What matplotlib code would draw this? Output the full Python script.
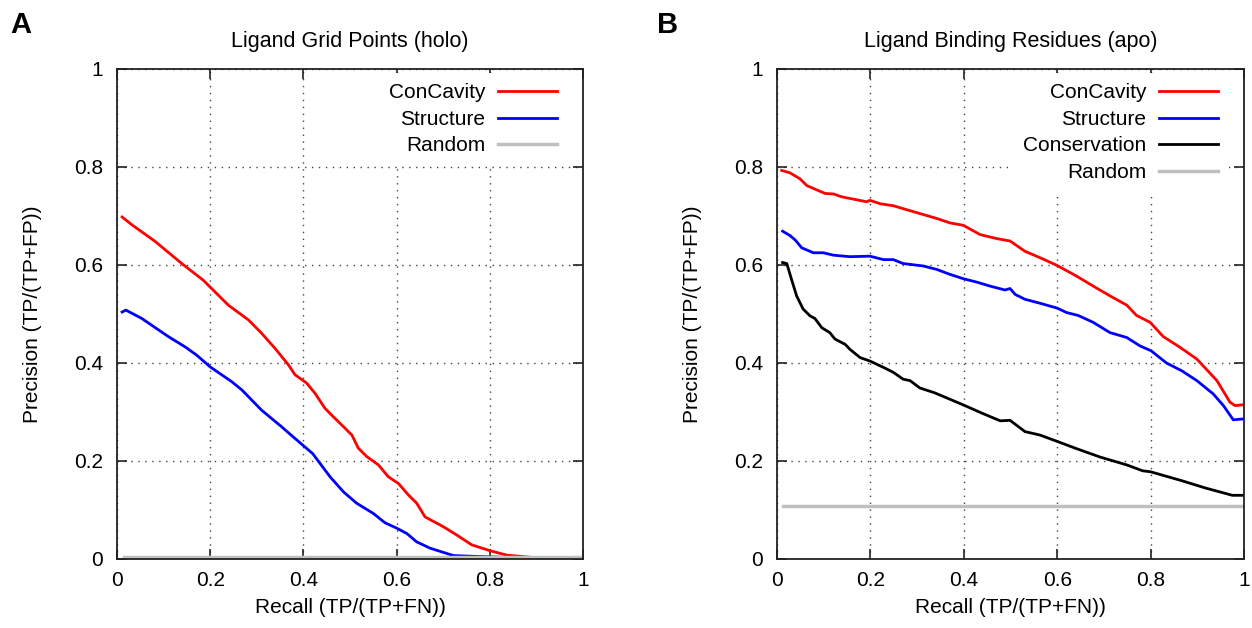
import matplotlib
matplotlib.use("Agg")
import matplotlib.pyplot as plt

plt.rcParams["font.family"] = ["Liberation Sans", "DejaVu Sans"]
plt.rcParams["font.size"] = 15

# panel A: ligand grid points (holo)
a_con_x = [0.011, 0.032, 0.082, 0.139, 0.185, 0.203, 0.239, 0.282, 0.310, 0.339, 0.368, 0.382,
           0.407, 0.425, 0.446, 0.457, 0.486, 0.504, 0.518, 0.536, 0.561, 0.582, 0.604, 0.625,
           0.643, 0.661, 0.700, 0.729, 0.761, 0.800, 0.836, 0.893]
a_con_y = [0.698, 0.682, 0.648, 0.603, 0.569, 0.552, 0.518, 0.488, 0.461, 0.430, 0.396, 0.376,
           0.359, 0.338, 0.308, 0.297, 0.270, 0.253, 0.226, 0.209, 0.192, 0.168, 0.154, 0.131,
           0.114, 0.086, 0.066, 0.049, 0.029, 0.017, 0.008, 0.003]
a_str_x = [0.011, 0.019, 0.053, 0.110, 0.146, 0.171, 0.200, 0.246, 0.268, 0.310, 0.353, 0.382,
           0.420, 0.457, 0.486, 0.514, 0.550, 0.575, 0.600, 0.622, 0.643, 0.672, 0.722, 0.779, 0.850]
a_str_y = [0.504, 0.508, 0.491, 0.454, 0.433, 0.416, 0.392, 0.362, 0.345, 0.304, 0.270, 0.246,
           0.215, 0.168, 0.137, 0.114, 0.093, 0.074, 0.063, 0.052, 0.035, 0.022, 0.007, 0.005, 0.003]
a_rand_x = [0.014, 1.0]
a_rand_y = [0.005, 0.005]

# panel B: ligand binding residues (apo)
b_con_x = [0.010, 0.028, 0.049, 0.064, 0.081, 0.103, 0.121, 0.139, 0.171, 0.192, 0.199, 0.221,
           0.249, 0.270, 0.306, 0.342, 0.370, 0.399, 0.435, 0.470, 0.499, 0.531, 0.563, 0.600,
           0.642, 0.677, 0.713, 0.749, 0.770, 0.799, 0.827, 0.863, 0.899, 0.942, 0.970, 0.981, 1.000]
b_con_y = [0.793, 0.788, 0.776, 0.762, 0.755, 0.746, 0.745, 0.739, 0.733, 0.729, 0.732, 0.725,
           0.721, 0.715, 0.705, 0.695, 0.686, 0.681, 0.662, 0.654, 0.649, 0.628, 0.615, 0.599,
           0.577, 0.557, 0.537, 0.518, 0.497, 0.483, 0.454, 0.432, 0.408, 0.364, 0.320, 0.313, 0.315]
b_str_x = [0.012, 0.028, 0.039, 0.053, 0.078, 0.099, 0.121, 0.156, 0.199, 0.228, 0.249, 0.270,
           0.313, 0.342, 0.370, 0.399, 0.428, 0.456, 0.488, 0.499, 0.510, 0.531, 0.563, 0.600,
           0.620, 0.645, 0.677, 0.713, 0.749, 0.777, 0.801, 0.834, 0.867, 0.899, 0.934, 0.956,
           0.977, 1.000]
b_str_y = [0.669, 0.660, 0.651, 0.635, 0.625, 0.625, 0.620, 0.617, 0.618, 0.611, 0.611, 0.603,
           0.598, 0.591, 0.581, 0.572, 0.565, 0.557, 0.549, 0.552, 0.540, 0.530, 0.522, 0.512,
           0.503, 0.497, 0.483, 0.462, 0.452, 0.435, 0.425, 0.400, 0.384, 0.364, 0.337, 0.313,
           0.284, 0.286]
b_cons_x = [0.012, 0.021, 0.031, 0.042, 0.056, 0.071, 0.081, 0.096, 0.113, 0.124, 0.146, 0.156,
            0.178, 0.199, 0.228, 0.249, 0.270, 0.285, 0.306, 0.338, 0.400, 0.438, 0.478, 0.499,
            0.531, 0.563, 0.600, 0.642, 0.692, 0.749, 0.783, 0.800, 0.866, 0.917, 0.975, 1.000]
b_cons_y = [0.605, 0.603, 0.571, 0.537, 0.510, 0.496, 0.491, 0.472, 0.462, 0.449, 0.438, 0.428,
            0.411, 0.404, 0.391, 0.381, 0.367, 0.364, 0.349, 0.339, 0.314, 0.298, 0.282, 0.283,
            0.260, 0.253, 0.240, 0.225, 0.208, 0.192, 0.180, 0.178, 0.160, 0.145, 0.130, 0.130]
b_rand_x = [0.012, 1.0]
b_rand_y = [0.108, 0.108]

ticks = [0, 0.2, 0.4, 0.6, 0.8, 1]
tick_labels = ["0", "0.2", "0.4", "0.6", "0.8", "1"]

fig = plt.figure(figsize=(12.52, 6.28), dpi=100)
ax1 = fig.add_axes([117 / 1252, 1 - 559 / 628, 466 / 1252, 490 / 628])
ax2 = fig.add_axes([777 / 1252, 1 - 559 / 628, 467 / 1252, 490 / 628])


def style_axes(ax, title):
    ax.set_xlim(0, 1)
    ax.set_ylim(0, 1)
    ax.set_xticks(ticks)
    ax.set_xticklabels(tick_labels)
    ax.set_yticks(ticks)
    ax.set_yticklabels(tick_labels)
    ax.tick_params(direction="in", length=7, width=1.2, top=True, right=True, color="#222222")
    ax.tick_params(axis="x", pad=9)
    ax.tick_params(axis="y", pad=10)
    for s in ax.spines.values():
        s.set_linewidth(1.3)
        s.set_color("#222222")
    ax.grid(True, color="#444444", linestyle=(0, (1, 4)), linewidth=1)
    ax.set_title(title, fontsize=15.5, pad=16)
    ax.set_xlabel("Recall (TP/(TP+FN))")
    ax.set_ylabel("Precision (TP/(TP+FP))")
    ax.xaxis.set_label_coords(0.5, -0.08)
    ax.yaxis.set_label_coords(-0.161, 0.5)


lw = 2
ax1.plot(a_con_x, a_con_y, color="#ff0000", lw=lw, label="ConCavity")
ax1.plot(a_str_x, a_str_y, color="#0000ff", lw=lw, label="Structure")
ax1.plot(a_rand_x, a_rand_y, color="#c0c0c0", lw=lw + 0.5, label="Random")
style_axes(ax1, "Ligand Grid Points (holo)")

ax2.plot(b_con_x, b_con_y, color="#ff0000", lw=lw, label="ConCavity")
ax2.plot(b_str_x, b_str_y, color="#0000ff", lw=lw, label="Structure")
ax2.plot(b_cons_x, b_cons_y, color="black", lw=lw, label="Conservation")
ax2.plot(b_rand_x, b_rand_y, color="#c0c0c0", lw=lw + 0.5, label="Random")
style_axes(ax2, "Ligand Binding Residues (apo)")

for ax in (ax1, ax2):
    leg = ax.legend(loc="upper right", bbox_to_anchor=(0.967, 0.992), borderaxespad=0,
                    markerfirst=False, frameon=True, fancybox=False, framealpha=1,
                    edgecolor="none", facecolor="white", handlelength=2.85,
                    handletextpad=0.6, labelspacing=0.36, borderpad=0.5)

fig.text(10 / 1252, 1 - 11 / 628, "A", fontsize=21, fontweight="bold", ha="left", va="top")
fig.text(657 / 1252, 1 - 11 / 628, "B", fontsize=21, fontweight="bold", ha="left", va="top")

fig.savefig("out.png", dpi=100)
